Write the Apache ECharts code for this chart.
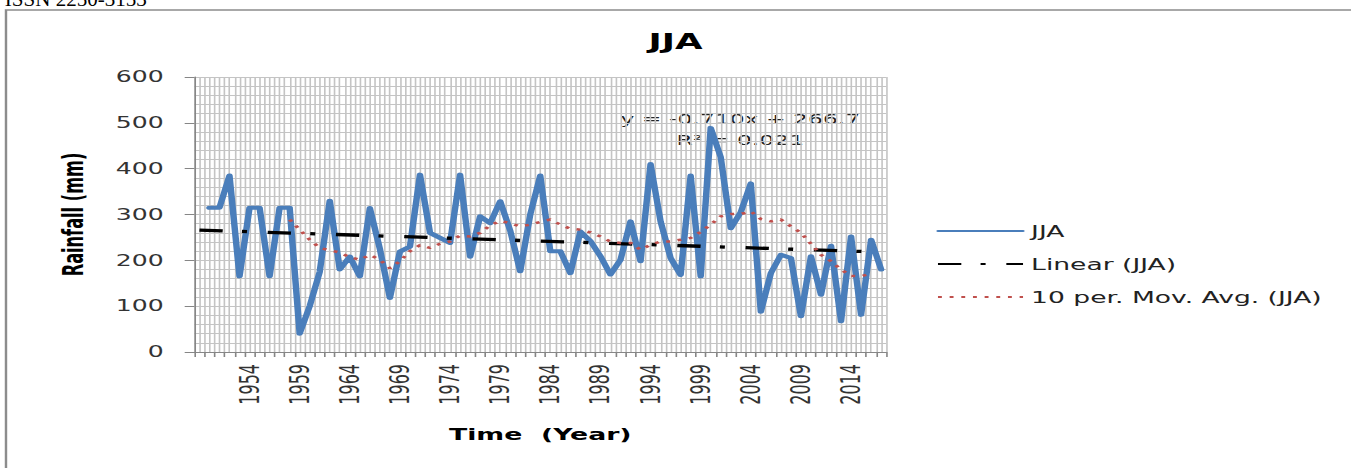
<!DOCTYPE html>
<html>
<head>
<meta charset="utf-8">
<script src="https://cdn.jsdelivr.net/npm/echarts@6/dist/echarts.min.js"></script>
<style>
  html, body { margin: 0; padding: 0; background: #fff; overflow: hidden; }
  #main { position: absolute; left: 0; top: 0; width: 834px; height: 468px;
          transform: scaleX(1.62); transform-origin: 0 0; }
</style>
</head>
<body>
<div id="main"></div>
<script>
// data (1949 has no value)
var firstYear = 1949;
var years = [];
for (var k = 0; k < 69; k++) years.push(String(firstYear + k));

var rainfall = [
  null, 315, 315, 385, 165, 315, 315, 165, 315, 315,
  40, 100, 175, 330, 180, 208, 165, 314, 225, 118,
  219, 230, 387, 260, 249, 238, 387, 208, 296, 281,
  329, 265, 176, 300, 385, 220, 220, 172, 263, 242,
  209, 169, 201, 285, 198, 410, 285, 205, 168, 385,
  165, 489, 425, 270, 305, 368, 88, 172, 212, 205,
  78, 209, 125, 232, 67, 252, 81, 245, 180
];

var movAvg = [
  null, null, null, null, null, null, null, null, null, 289,
  267, 245, 227, 222, 217, 207, 201, 212, 201, 183,
  198, 220, 233, 227, 236, 241, 254, 252, 260, 276,
  286, 281, 274, 278, 284, 289, 278, 269, 267, 261,
  252, 241, 238, 238, 223, 234, 241, 241, 245, 249,
  262, 278, 296, 301, 301, 307, 290, 285, 289, 274,
  260, 236, 212, 198, 180, 166, 165, 172, null
];

// linear trend ends (y = -0.710x + 266.7)
var trendStart = 266;
var trendEnd = 218;

var yTicks = [0, 100, 200, 300, 400, 500, 600];

var font = "DejaVu Sans";
var gridColor = "#c4c4c4";
var axisColor = "#868686";

var chart = echarts.init(document.getElementById("main"), null, { renderer: "svg" });

var option = {
  animation: false,
  backgroundColor: "#fff",
  title: {
    text: "JJA",
    left: "center",
    top: 26,
    textStyle: { fontFamily: font, fontWeight: "bold", fontSize: 22, color: "#000" },
  },
  legend: {
    orient: "vertical",
    left: 573,
    top: 218,
    itemWidth: 52.5,
    itemHeight: 16,
    itemGap: 17,
    itemStyle: { color: "transparent", borderColor: "transparent", borderWidth: 0 },
    textStyle: { fontFamily: font, fontSize: 16.4, color: "#222" },
    data: ["JJA", "Linear (JJA)", "10 per. Mov. Avg. (JJA)"],
  },
  grid: { left: 120, top: 77, width: 427, height: 275 },
  xAxis: [
    {
      type: "category",
      data: years,
      boundaryGap: true,
      axisLine: { lineStyle: { color: axisColor, width: 1 } },
      axisTick: { show: true, interval: 0, length: 5, lineStyle: { color: axisColor } },
      axisLabel: {
        interval: function (i) { return i > 0 && i % 5 === 0; },
        rotate: 90,
        margin: 12,
        fontFamily: font,
        fontSize: 16,
        color: "#333",
      },
      splitLine: { show: false },
      name: "Time  (Year)",
      nameLocation: "middle",
      nameGap: 74,
      nameTextStyle: { fontFamily: font, fontWeight: "bold", fontSize: 16.5, color: "#000" },
    },
    {
      // half-category grid lines
      type: "value",
      min: 0,
      max: 138,
      interval: 1,
      axisLine: { show: false },
      axisTick: { show: false },
      axisLabel: { show: false },
      splitLine: { show: true, lineStyle: { color: gridColor, width: 1 } },
    },
  ],
  yAxis: {
    type: "value",
    min: yTicks[0],
    max: yTicks[yTicks.length - 1],
    interval: 100,
    axisLine: { show: true, lineStyle: { color: axisColor } },
    axisTick: { show: true, length: 6, lineStyle: { color: axisColor } },
    axisLabel: { margin: 19, fontFamily: font, fontSize: 15.5, color: "#333" },
    splitLine: { lineStyle: { color: gridColor } },
    minorTick: { show: false, splitNumber: 5 },
    minorSplitLine: { show: true, lineStyle: { color: gridColor } },
    name: "Rainfall (mm)",
    nameLocation: "middle",
    nameGap: 66,
    nameTextStyle: {
      fontFamily: "'DejaVu Sans Condensed', 'DejaVu Sans'",
      fontWeight: "bold",
      fontSize: 18,
      color: "#000",
    },
  },
  graphic: [
    {
      type: "rect",
      shape: { x: 3.7, y: 10, width: 900, height: 500 },
      style: { fill: "none", stroke: "#8c8c8c", lineWidth: 1.5 },
    },
    {
      type: "text",
      x: 3,
      y: -1,
      scaleX: 0.65,
      style: {
        text: "ISSN 2250-3153",
        fontFamily: "Liberation Serif",
        fontSize: 20,
        verticalAlign: "middle",
        fill: "#000",
      },
    },
    {
      type: "text",
      x: 457,
      y: 130,
      style: {
        text: "y = -0.710x + 266.7\nR² = 0.021",
        align: "center",
        verticalAlign: "middle",
        lineHeight: 21,
        fontFamily: font,
        fontSize: 14.5,
        fill: "#222",
      },
    },
  ],
  series: [
    {
      name: "JJA",
      type: "line",
      data: rainfall,
      symbol: "none",
      lineStyle: { color: "#4a7ebb", width: 4, join: "round", cap: "round" },
      itemStyle: { color: "#4a7ebb" },
    },
    {
      name: "Linear (JJA)",
      type: "line",
      data: [[0, trendStart], [68, trendEnd]],
      symbol: "none",
      lineStyle: { color: "#000", width: 3.3, type: [14.4, 11.9, 3.1, 12.8] },
      itemStyle: { color: "#000" },
    },
    {
      name: "10 per. Mov. Avg. (JJA)",
      type: "line",
      data: movAvg,
      symbol: "none",
      lineStyle: { color: "#c0504d", width: 2.5, type: [2.4, 4.8] },
      itemStyle: { color: "#c0504d" },
    },
  ],
};

chart.setOption(option);
</script>
</body>
</html>
